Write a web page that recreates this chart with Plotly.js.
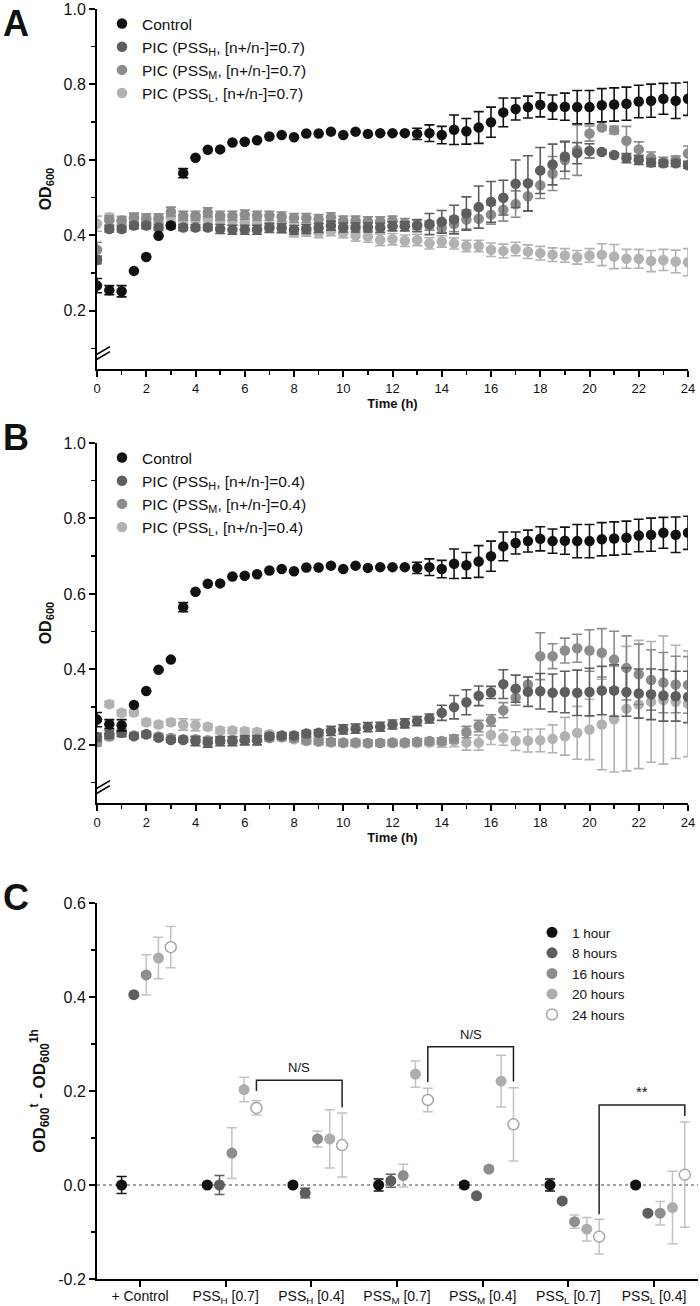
<!DOCTYPE html>
<html>
<head>
<meta charset="utf-8">
<script src="https://cdn.plot.ly/plotly-3.0.1.min.js"></script>
<style>html,body{margin:0;padding:0;background:#fff;}#chart{width:700px;height:1306px;}</style>
</head>
<body>
<div id="chart"></div>
<script>
// ---------- DATA ----------
const times = [0,0.5,1,1.5,2,2.5,3,3.5,4,4.5,5,5.5,6,6.5,7,7.5,8,8.5,9,9.5,10,10.5,11,11.5,12,12.5,13,13.5,14,14.5,15,15.5,16,16.5,17,17.5,18,18.5,19,19.5,20,20.5,21,21.5,22,22.5,23,23.5,24];

const control = [0.267,0.255,0.252,0.306,0.343,0.399,0.426,0.565,0.606,0.627,0.628,0.646,0.648,0.652,0.662,0.666,0.660,0.670,0.670,0.675,0.666,0.675,0.669,0.671,0.671,0.671,0.669,0.671,0.666,0.680,0.676,0.686,0.700,0.726,0.735,0.740,0.746,0.740,0.741,0.740,0.740,0.745,0.747,0.749,0.755,0.757,0.762,0.757,0.762];
const controlErr = [0.019,0.012,0.015,0,0,0,0,0.012,0,0,0,0,0,0,0,0,0,0,0,0,0,0,0,0,0,0,0.015,0.022,0.023,0.039,0.034,0.042,0.040,0.038,0.029,0.029,0.032,0.032,0.036,0.044,0.044,0.044,0.044,0.044,0.043,0.044,0.041,0.047,0.044];

// Panel A: [n+/n-] = 0.7
const aPSSH = [0.335,0.417,0.417,0.426,0.426,0.421,0.426,0.421,0.421,0.421,0.417,0.415,0.415,0.415,0.420,0.420,0.415,0.417,0.420,0.426,0.421,0.421,0.421,0.420,0.424,0.424,0.426,0.430,0.436,0.442,0.458,0.475,0.489,0.500,0.537,0.538,0.572,0.588,0.609,0.618,0.624,0.621,0.613,0.605,0.600,0.593,0.591,0.591,0.586];
const aPSSHErr = [0.010,0.008,0.008,0.008,0.008,0.008,0.008,0.008,0.008,0.008,0.012,0.012,0.012,0.012,0.012,0.012,0.012,0.012,0.012,0.012,0.012,0.012,0.012,0.012,0.012,0.012,0.016,0.028,0.030,0.038,0.044,0.056,0.054,0.046,0.063,0.073,0.061,0.054,0.039,0.028,0.019,0.005,0.005,0.012,0.012,0.010,0.008,0.008,0.008];
const aPSSM = [0.362,0.440,0.438,0.447,0.445,0.445,0.463,0.452,0.452,0.461,0.452,0.452,0.455,0.452,0.452,0.450,0.446,0.446,0.443,0.448,0.439,0.439,0.437,0.437,0.439,0.433,0.428,0.426,0.420,0.430,0.442,0.444,0.455,0.468,0.483,0.504,0.533,0.564,0.600,0.626,0.670,0.686,0.679,0.651,0.628,0.606,0.595,0.600,0.617];
const aPSSMErr = [0.020,0.012,0.012,0.012,0.012,0.012,0.012,0.012,0.012,0.012,0.012,0.012,0.012,0.012,0.012,0.012,0.012,0.012,0.012,0.012,0.012,0.012,0.012,0.012,0.012,0.012,0.012,0.012,0.012,0.020,0.025,0.025,0.025,0.030,0.035,0.040,0.035,0.045,0.050,0.067,0.020,0.005,0.010,0.038,0.020,0.015,0.012,0.010,0.020];
const aPSSL = [0.431,0.448,0.440,0.445,0.442,0.445,0.448,0.442,0.445,0.442,0.440,0.438,0.435,0.430,0.425,0.418,0.408,0.410,0.406,0.411,0.406,0.400,0.397,0.388,0.390,0.386,0.388,0.379,0.384,0.379,0.372,0.372,0.362,0.359,0.364,0.357,0.353,0.349,0.347,0.342,0.347,0.349,0.344,0.338,0.338,0.332,0.335,0.331,0.329];
const aPSSLErr = [0.020,0.010,0.010,0.010,0.010,0.010,0.010,0.010,0.010,0.010,0.010,0.010,0.010,0.010,0.010,0.012,0.012,0.012,0.012,0.012,0.012,0.015,0.015,0.015,0.015,0.015,0.015,0.015,0.015,0.015,0.015,0.015,0.018,0.018,0.018,0.018,0.018,0.018,0.018,0.018,0.018,0.029,0.032,0.025,0.025,0.028,0.028,0.030,0.036];

// Panel B: [n+/n-] = 0.4
const bPSSH = [0.221,0.228,0.232,0.223,0.228,0.219,0.213,0.213,0.210,0.206,0.210,0.210,0.212,0.212,0.223,0.225,0.225,0.230,0.232,0.237,0.241,0.243,0.247,0.248,0.254,0.257,0.263,0.270,0.285,0.300,0.313,0.330,0.339,0.361,0.349,0.341,0.342,0.338,0.340,0.338,0.340,0.344,0.344,0.340,0.336,0.334,0.331,0.329,0.327];
const bPSSHErr = [0.010,0.010,0.010,0.006,0.006,0.006,0.006,0.006,0.012,0.012,0.012,0.012,0.012,0.012,0.008,0.008,0.008,0.008,0.008,0.012,0.012,0.012,0.012,0.012,0.012,0.012,0.012,0.012,0.020,0.031,0.033,0.026,0.016,0.038,0.036,0.039,0.047,0.050,0.055,0.060,0.063,0.064,0.068,0.064,0.065,0.067,0.068,0.066,0.068];
const bPSSM = [0.207,0.222,0.232,0.225,0.228,0.222,0.218,0.215,0.215,0.212,0.212,0.212,0.214,0.216,0.218,0.220,0.218,0.212,0.210,0.208,0.206,0.206,0.205,0.205,0.206,0.206,0.208,0.210,0.210,0.216,0.234,0.250,0.265,0.292,0.325,0.360,0.435,0.435,0.450,0.456,0.450,0.444,0.426,0.404,0.387,0.372,0.365,0.360,0.359];
const bPSSMErr = [0.010,0.008,0.008,0.008,0.008,0.008,0.008,0.008,0.008,0.008,0.008,0.008,0.008,0.008,0.008,0.008,0.008,0.008,0.008,0.008,0.008,0.008,0.008,0.008,0.008,0.008,0.008,0.008,0.008,0.010,0.015,0.015,0.015,0.020,0.020,0.020,0.062,0.033,0.033,0.037,0.055,0.064,0.075,0.085,0.080,0.080,0.080,0.075,0.075];
const bPSSL = [0.215,0.308,0.285,0.286,0.260,0.254,0.260,0.254,0.252,0.248,0.238,0.238,0.236,0.234,0.228,0.222,0.215,0.210,0.208,0.206,0.205,0.204,0.204,0.205,0.205,0.204,0.205,0.206,0.206,0.210,0.206,0.206,0.226,0.219,0.210,0.211,0.212,0.216,0.223,0.232,0.241,0.254,0.268,0.296,0.307,0.314,0.319,0.314,0.309];
const bPSSLErr = [0.015,0.008,0.008,0.008,0.008,0.008,0.008,0.015,0.015,0.008,0.008,0.008,0.008,0.008,0.008,0.008,0.008,0.008,0.008,0.008,0.008,0.008,0.008,0.008,0.008,0.008,0.008,0.008,0.012,0.015,0.020,0.020,0.025,0.020,0.025,0.030,0.030,0.037,0.050,0.070,0.080,0.120,0.140,0.165,0.170,0.160,0.170,0.150,0.140];

// Panel C
const groups = ['+ Control','PSS<sub>H</sub> [0.7]','PSS<sub>H</sub> [0.4]','PSS<sub>M</sub> [0.7]','PSS<sub>M</sub> [0.4]','PSS<sub>L</sub> [0.7]','PSS<sub>L</sub> [0.4]'];
const hourNames = ['1 hour','8 hours','16 hours','20 hours','24 hours'];
const d1h  = [0, 0, 0, 0, 0, 0, 0];
const e1h  = [0.018, 0.004, 0.004, 0.013, 0.006, 0.013, 0.004];
const d8h  = [0.405, 0.000, -0.017, 0.009, -0.023, -0.034, -0.060];
const e8h  = [0, 0.020, 0.010, 0.014, 0.004, 0.004, 0.004];
const d16h = [0.447, 0.068, 0.098, 0.020, 0.034, -0.078, -0.060];
const e16h = [0.043, 0.054, 0.017, 0.024, 0.006, 0.014, 0.025];
const d20h = [0.483, 0.203, 0.098, 0.236, 0.221, -0.094, -0.048];
const e20h = [0.044, 0.026, 0.062, 0.028, 0.055, 0.025, 0.077];
const d24h = [0.506, 0.164, 0.085, 0.181, 0.129, -0.110, 0.022];
const e24h = [0.044, 0.015, 0.068, 0.025, 0.078, 0.037, 0.112];
// significance brackets: group indices compared at 24 h, bracket top, left/right leg ends, label
const brackets = [
  {from:1, to:2, top:0.223, left:0.200, right:0.165, label:'N/S'},
  {from:3, to:4, top:0.294, left:0.219, right:0.220, label:'N/S'},
  {from:5, to:6, top:0.170, left:-0.062, right:0.147, label:'**'}
];

// ---------- STYLE ----------
const FONT = 'Liberation Sans, Arial, sans-serif';
const cCtrl = '#111111', cH = '#5e5e5e', cM = '#8c8c8c', cL = '#b2b2b2';
const hourColors = ['#111111','#5e5e5e','#8e8e8e','#adadad','#ffffff'];
const hourErrColors = ['#111111','#5e5e5e','#c2c2c2','#c2c2c2','#c2c2c2'];
const hourOffsets = [-0.215,-0.072,0.072,0.215,0.359];

function ts(y, err, name, color, xa, ya, leg) {
  return {
    type:'scatter', mode:'markers', x: times, y: y, name: name,
    xaxis: xa, yaxis: ya, legend: leg,
    marker:{size:10.5, color: color},
    error_y:{type:'data', array: err, visible:true, color: color, thickness:1.6, width:5},
    hoverinfo:'skip'
  };
}

const traces = [];
// Panel A (draw lightest first, control on top)
traces.push(ts(aPSSL, aPSSLErr, 'PIC (PSS<sub>L</sub>, [n+/n-]=0.7)', cL, 'x', 'y', 'legend'));
traces.push(ts(aPSSM, aPSSMErr, 'PIC (PSS<sub>M</sub>, [n+/n-]=0.7)', cM, 'x', 'y', 'legend'));
traces.push(ts(aPSSH, aPSSHErr, 'PIC (PSS<sub>H</sub>, [n+/n-]=0.7)', cH, 'x', 'y', 'legend'));
traces.push(ts(control, controlErr, 'Control', cCtrl, 'x', 'y', 'legend'));
// Panel B
traces.push(ts(bPSSL, bPSSLErr, 'PIC (PSS<sub>L</sub>, [n+/n-]=0.4)', cL, 'x2', 'y2', 'legend2'));
traces.push(ts(bPSSM, bPSSMErr, 'PIC (PSS<sub>M</sub>, [n+/n-]=0.4)', cM, 'x2', 'y2', 'legend2'));
traces.push(ts(bPSSH, bPSSHErr, 'PIC (PSS<sub>H</sub>, [n+/n-]=0.4)', cH, 'x2', 'y2', 'legend2'));
traces.push(ts(control, controlErr, 'Control', cCtrl, 'x2', 'y2', 'legend2'));

// Panel C
const cData = [d1h, d8h, d16h, d20h, d24h];
const cErr = [e1h, e8h, e16h, e20h, e24h];
cData.forEach((vals, k) => {
  const open = (k === 4);
  traces.push({
    type:'scatter', mode:'markers', name: hourNames[k],
    x: groups.map((g, i) => i + hourOffsets[k]), y: vals,
    xaxis:'x3', yaxis:'y3', legend:'legend3',
    marker:{size:11, color: hourColors[k], line: open ? {color:'#a6a6a6', width:1.5} : {width:0}},
    error_y:{type:'data', array: cErr[k], visible:true, color: hourErrColors[k], thickness:1.5, width:5},
    hoverinfo:'skip'
  });
});

// ---------- LAYOUT ----------
const PLOT_TOP = 9, PLOT_BOT = 1279, H = PLOT_BOT - PLOT_TOP;
const L = 97, W = 601;
const pyFrac = px => (PLOT_BOT - px) / H;
const pxFrac = px => (px - L) / W;

const axisLine = {showline:true, linecolor:'#000', linewidth:2, ticks:'outside', ticklen:6, tickwidth:2, tickcolor:'#000', showgrid:false, zeroline:false};

function timeX(anchor) {
  return Object.assign({}, axisLine, {
    anchor: anchor, domain:[0, 591/601], range:[0,24],
    tickvals:[0,2,4,6,8,10,12,14,16,18,20,22,24],
    tickfont:{family:FONT, size:13, color:'#111'},
    minor:{tickvals:[1,3,5,7,9,11,13,15,17,19,21,23], ticks:'outside', ticklen:4, tickwidth:1.5, tickcolor:'#000'},
    title:{text:'<b>Time (h)</b>', font:{family:FONT, size:13, color:'#111'}, standoff:1}
  });
}
function odY(anchor, dom) {
  return Object.assign({}, axisLine, {
    anchor: anchor, domain: dom, range:[0.046, 1.0],
    tickvals:[0.2,0.4,0.6,0.8,1.0], ticktext:['0.2','0.4','0.6','0.8','1.0'],
    tickfont:{family:FONT, size:16, color:'#111'},
    minor:{tickvals:[0.1,0.3,0.5,0.7,0.9], ticks:'outside', ticklen:4, tickwidth:1.5, tickcolor:'#000'},
    title:{text:'<b>OD<sub>600</sub></b>', font:{family:FONT, size:16, color:'#111'}, standoff:8}
  });
}

const domA = [pyFrac(369), 1.0];
const domB = [pyFrac(803), pyFrac(443)];
const domC = [0, pyFrac(903)];

const shapes = [];
// axis breaks on the time-course panels
['y','y2'].forEach((ya, j) => {
  const xa = j === 0 ? 'x' : 'x2';
  shapes.push({type:'line', xref:xa, yref:ya, xsizemode:'pixel', ysizemode:'pixel', xanchor:0, yanchor:0.08,
    x0:0, x1:0, y0:-3.5, y1:2.5, line:{color:'#fff', width:4}});
  shapes.push({type:'line', xref:xa, yref:ya, xsizemode:'pixel', ysizemode:'pixel', xanchor:0, yanchor:0.08,
    x0:-11, x1:13, y0:-9.5, y1:4.5, line:{color:'#000', width:1.6}});
  shapes.push({type:'line', xref:xa, yref:ya, xsizemode:'pixel', ysizemode:'pixel', xanchor:0, yanchor:0.08,
    x0:-11, x1:13, y0:-4.5, y1:9.5, line:{color:'#000', width:1.6}});
});
// dotted zero line in C
shapes.push({type:'line', xref:'x3 domain', yref:'y3', x0:0, x1:1, y0:0, y1:0, layer:'below',
  line:{color:'#444', width:1.2, dash:'dot'}});

const annotations = [];
brackets.forEach(b => {
  const xa = b.from + hourOffsets[4], xb = b.to + hourOffsets[4];
  shapes.push({type:'path', xref:'x3', yref:'y3',
    path:`M ${xa},${b.left} L ${xa},${b.top} L ${xb},${b.top} L ${xb},${b.right}`,
    line:{color:'#222', width:1.5}});
  annotations.push({xref:'x3', yref:'y3', x:(xa+xb)/2, y:b.top, yanchor:'bottom', yshift:3, showarrow:false,
    text:b.label, font:{family:FONT, size: b.label === '**' ? 15 : 13, color:'#111'}});
});
// panel letters
[['A',24],['B',437],['C',897]].forEach(([t, py]) => {
  annotations.push({xref:'paper', yref:'paper', x:pxFrac(16), y:pyFrac(py), xanchor:'center', yanchor:'middle',
    showarrow:false, text:'<b>'+t+'</b>', font:{family:FONT, size:36, color:'#111'}});
});

const legendBase = {bgcolor:'rgba(0,0,0,0)', borderwidth:0, traceorder:'reversed', xanchor:'left', yanchor:'top',
  font:{family:FONT, size:15.5, color:'#111'}, itemclick:false, itemdoubleclick:false};

const layout = {
  width:700, height:1306, autosize:false,
  margin:{l:L, r:2, t:PLOT_TOP, b:1306-PLOT_BOT},
  paper_bgcolor:'#fff', plot_bgcolor:'#fff',
  font:{family:FONT, color:'#111'},
  showlegend:true,
  xaxis: timeX('y'),
  yaxis: odY('x', domA),
  xaxis2: timeX('y2'),
  yaxis2: odY('x2', domB),
  xaxis3: Object.assign({}, axisLine, {
    anchor:'y3', domain:[0,1], range:[-0.502, 6.513],
    tickvals:[0,1,2,3,4,5,6], ticktext: groups,
    tickfont:{family:FONT, size:14, color:'#111'},
    ticklabelstandoff:-3
  }),
  yaxis3: Object.assign({}, axisLine, {
    anchor:'x3', domain: domC, range:[-0.2, 0.6],
    tickvals:[-0.2,0,0.2,0.4,0.6], ticktext:['-0.2','0.0','0.2','0.4','0.6'],
    tickfont:{family:FONT, size:16, color:'#111'},
    minor:{tickvals:[-0.1,0.1,0.3,0.5], ticks:'outside', ticklen:4, tickwidth:1.5, tickcolor:'#000'},
    title:{text:'<b>OD<sub>600</sub><sup>t</sup> - OD<sub>600</sub><sup>1h</sup></b>', font:{family:FONT, size:17, color:'#111'}, standoff:8}
  }),
  legend: Object.assign({}, legendBase, {x:pxFrac(102), y:pyFrac(7)}),
  legend2: Object.assign({}, legendBase, {x:pxFrac(102), y:pyFrac(441)}),
  legend3: Object.assign({}, legendBase, {traceorder:'normal', x:pxFrac(532), y:pyFrac(917), font:{family:FONT, size:13.5, color:'#111'}}),
  shapes: shapes,
  annotations: annotations
};

Plotly.newPlot('chart', traces, layout, {staticPlot:true, displayModeBar:false});
</script>
</body>
</html>
